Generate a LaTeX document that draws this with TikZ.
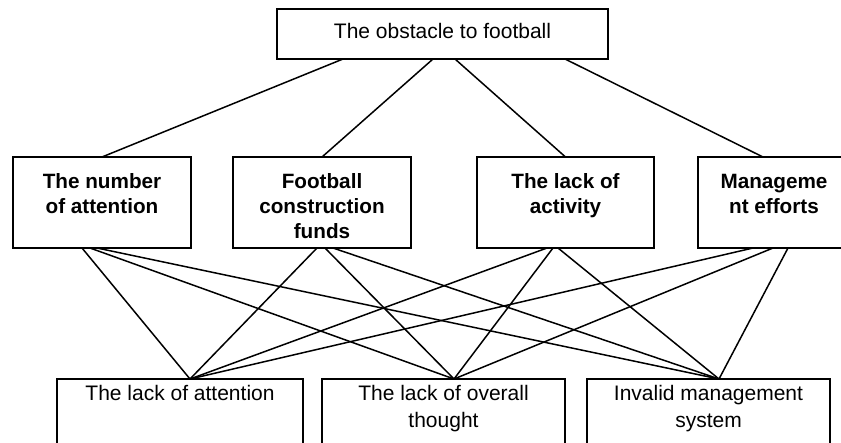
\documentclass[tikz,border=0pt]{standalone}
\usepackage{fontspec}
\setmainfont{Liberation Sans}
% text blocks: top-aligned inside the box, first baseline set by a strut
\newcommand\goaltext[1]{\parbox[c][50pt][t]{331pt}{\centering\fontsize{21}{25}\selectfont\rule{0pt}{29pt}#1}}
\newcommand\factortext[2]{\parbox[c][91pt][t]{#1}{\centering\fontsize{20.7}{25}\selectfont\bfseries\rule{0pt}{31pt}#2}}
\newcommand\causetext[2]{\parbox[c][80pt][t]{#1}{\centering\fontsize{21}{27}\selectfont\rule{0pt}{21pt}#2}}
\begin{document}
\begin{tikzpicture}[x=1pt,y=-1pt,
  box/.style={draw, line width=1.8pt, inner sep=0pt, outer sep=0pt, anchor=north west},
  link/.style={line width=1.5pt},
  ]
\useasboundingbox (0,0) rectangle (841,442);

% top level
\node[box, minimum width=331pt, minimum height=50pt] (goal) at (277,9)
  {\goaltext{The obstacle to football}};

% middle level
\node[box, minimum width=178pt, minimum height=91pt] (m1) at (13,157)
  {\factortext{178pt}{The number\\of attention}};
\node[box, minimum width=178pt, minimum height=91pt] (m2) at (233,157)
  {\factortext{178pt}{Football\\construction\\funds}};
\node[box, minimum width=177pt, minimum height=91pt] (m3) at (477,157)
  {\factortext{177pt}{The lack of\\activity}};
\node[box, minimum width=152pt, minimum height=91pt] (m4) at (698,157)
  {\factortext{152pt}{Manageme\\nt efforts}};

% bottom level
\node[box, minimum width=246pt, minimum height=80pt] (b1) at (57,379)
  {\causetext{246pt}{The lack of attention}};
\node[box, minimum width=243pt, minimum height=80pt] (b2) at (322,379)
  {\causetext{243pt}{The lack of overall\\thought}};
\node[box, minimum width=243pt, minimum height=80pt] (b3) at (587,379)
  {\causetext{243pt}{Invalid management\\system}};

% top to middle
\draw[link] ([xshift=66pt]goal.south west)  -- (m1.north);
\draw[link] ([xshift=156pt]goal.south west) -- (m2.north);
\draw[link] ([xshift=178pt]goal.south west) -- (m3.north);
\draw[link] ([xshift=288pt]goal.south west) -- ([xshift=65pt]m4.north west);

% middle to bottom
\draw[link] ([xshift=69pt]m1.south west) -- ([xshift=133pt]b1.north west);
\draw[link] ([xshift=77pt]m1.south west) -- ([xshift=132pt]b2.north west);
\draw[link] ([xshift=84pt]m1.south west) -- ([xshift=132pt]b3.north west);

\draw[link] ([xshift=84pt]m2.south west)  -- ([xshift=133pt]b1.north west);
\draw[link] ([xshift=92pt]m2.south west)  -- ([xshift=132pt]b2.north west);
\draw[link] ([xshift=100pt]m2.south west) -- ([xshift=132pt]b3.north west);

\draw[link] ([xshift=70pt]m3.south west) -- ([xshift=133pt]b1.north west);
\draw[link] ([xshift=76pt]m3.south west) -- ([xshift=132pt]b2.north west);
\draw[link] ([xshift=81pt]m3.south west) -- ([xshift=132pt]b3.north west);

\draw[link] ([xshift=55pt]m4.south west) -- ([xshift=133pt]b1.north west);
\draw[link] ([xshift=75pt]m4.south west) -- ([xshift=132pt]b2.north west);
\draw[link] ([xshift=90pt]m4.south west) -- ([xshift=132pt]b3.north west);
\end{tikzpicture}
\end{document}
